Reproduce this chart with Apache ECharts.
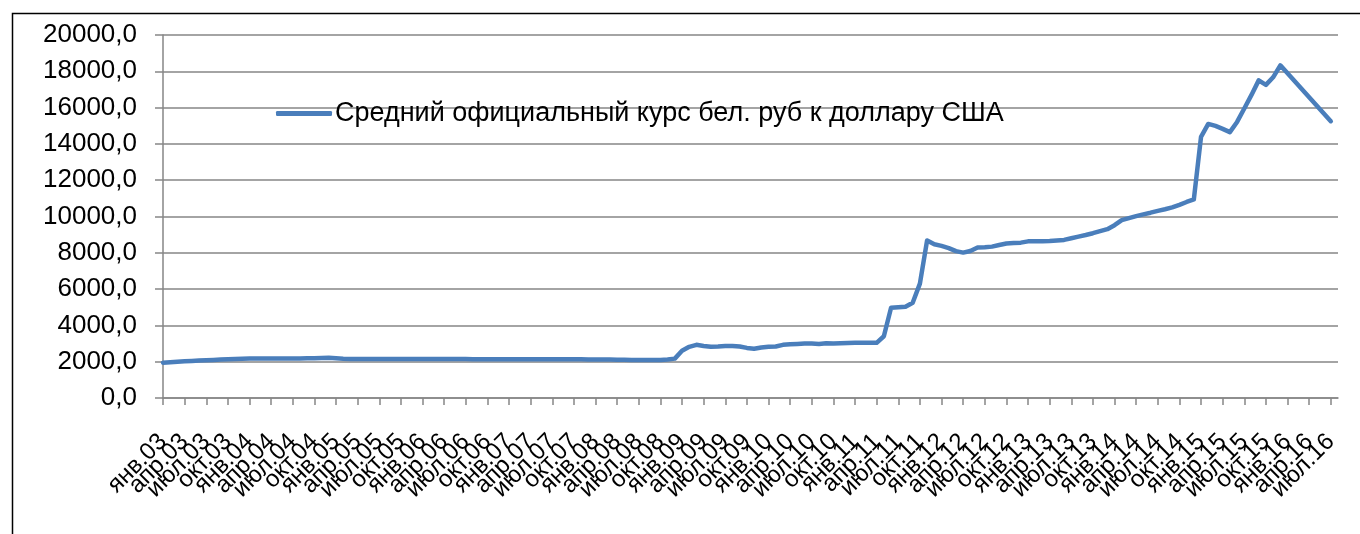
<!DOCTYPE html>
<html>
<head>
<meta charset="utf-8">
<script src="https://cdn.jsdelivr.net/npm/echarts@6/dist/echarts.min.js"></script>
<style>
html,body{margin:0;padding:0;background:#fff;}
#c{width:1360px;height:534px;}
</style>
</head>
<body>
<div id="c"></div>
<script>
// Categories: monthly, янв.03 ... авг.16
const monthNames = ['янв.','фев.','мар.','апр.','май.','июн.','июл.','авг.','сен.','окт.','ноя.','дек.'];
const years = ['03','04','05','06','07','08','09','10','11','12','13','14','15','16'];
const categories = [];
years.forEach(function (y) { monthNames.forEach(function (m) { categories.push(m + y); }); });
categories.length = 164;

const seriesName = 'Средний официальный курс бел. руб к доллару США';

// values, by year
const v2003 = [1945, 1970, 2000, 2020, 2040, 2060, 2080, 2100, 2120, 2140, 2150, 2160];
const v2004 = [2170, 2172, 2175, 2178, 2180, 2180, 2180, 2182, 2185, 2195, 2205, 2215];
const v2005 = [2190, 2165, 2150, 2150, 2148, 2148, 2145, 2145, 2145, 2145, 2145, 2145];
const v2006 = [2145, 2145, 2143, 2143, 2142, 2142, 2142, 2141, 2141, 2140, 2140, 2140];
const v2007 = [2140, 2138, 2137, 2136, 2135, 2134, 2133, 2132, 2130, 2130, 2130, 2128];
const v2008 = [2125, 2120, 2115, 2110, 2105, 2100, 2100, 2095, 2095, 2100, 2120, 2170];
const v2009 = [2600, 2820, 2930, 2870, 2820, 2840, 2870, 2870, 2840, 2760, 2710, 2780];
const v2010 = [2820, 2840, 2930, 2960, 2980, 3000, 3000, 2980, 3020, 3000, 3020, 3035];
const v2011 = [3040, 3040, 3040, 3040, 3400, 4970, 5000, 5030, 5250, 6300, 8680, 8470];
const v2012 = [8380, 8260, 8090, 8010, 8100, 8290, 8310, 8340, 8430, 8510, 8540, 8560];
const v2013 = [8630, 8640, 8640, 8650, 8680, 8710, 8800, 8890, 8980, 9080, 9190, 9300];
const v2014 = [9520, 9800, 9910, 10020, 10120, 10210, 10310, 10400, 10500, 10640, 10800, 10940];
const v2015 = [14390, 15100, 14990, 14830, 14650, 15210, 15950, 16700, 17500, 17250, 17670, 18330];
const v2016 = [null, null, null, null, null, null, 15250];

const values = [].concat(v2003, v2004, v2005, v2006, v2007, v2008, v2009, v2010,
                         v2011, v2012, v2013, v2014, v2015, v2016);

const yMin = 0, yMax = 20000, yStep = 2000;

const FONT = 'Liberation Sans, Arial, sans-serif';
const chart = echarts.init(document.getElementById('c'));
const grey = '#868686';
function everyThird(idx) { return idx % 3 === 0 && idx <= 162; }
chart.setOption({
  animation: false,
  backgroundColor: '#fff',
  textStyle: { fontFamily: FONT },
  graphic: [{
    type: 'rect', left: 10, top: 11,
    shape: { width: 1400, height: 600 },
    style: { fill: 'none', stroke: '#000', lineWidth: 1.5 },
    silent: true
  }],
  grid: { left: 163, right: 22, top: 35, bottom: 136 },
  legend: {
    left: 276, top: 100, padding: 0,
    icon: 'roundRect',
    itemWidth: 56, itemHeight: 5, itemGap: 0,
    textStyle: { fontSize: 27, color: '#000', fontFamily: FONT, padding: [0, 0, 0, -2] },
    data: [seriesName]
  },
  xAxis: {
    type: 'category',
    data: categories,
    boundaryGap: false,
    axisLine: { lineStyle: { color: grey, width: 1.5 } },
    axisTick: { interval: everyThird, length: 7, lineStyle: { color: grey, width: 1.5 } },
    axisLabel: {
      interval: 0, rotate: 45, margin: 40, hideOverlap: false,
      fontSize: 24, color: '#000', fontFamily: FONT,
      formatter: function (value, idx) { return everyThird(idx) ? value : ''; }
    },
    splitLine: { show: false }
  },
  yAxis: {
    type: 'value',
    min: yMin, max: yMax, interval: yStep,
    axisLine: { show: true, lineStyle: { color: grey, width: 1.5 } },
    axisTick: { show: true, length: 8, lineStyle: { color: grey, width: 1.5 } },
    axisLabel: {
      margin: 26, fontSize: 26, color: '#000', fontFamily: FONT,
      formatter: function (v) { return v.toFixed(1).replace('.', ','); }
    },
    splitLine: { lineStyle: { color: grey, width: 1.5 } }
  },
  series: [{
    name: seriesName,
    type: 'line',
    data: values,
    connectNulls: true,
    symbol: 'none',
    lineStyle: { color: '#4a7ebb', width: 4.5, cap: 'round', join: 'round' },
    itemStyle: { color: '#4a7ebb' }
  }]
});
</script>
</body>
</html>
